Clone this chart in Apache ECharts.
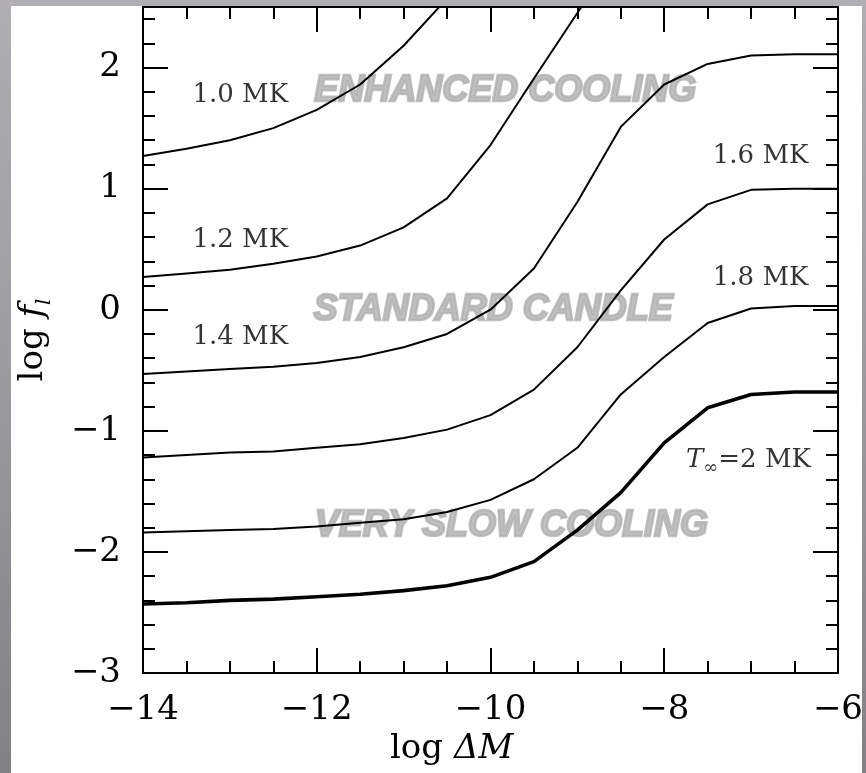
<!DOCTYPE html>
<html><head><meta charset="utf-8">
<script src="https://cdn.jsdelivr.net/npm/echarts@6/dist/echarts.min.js"></script>
<style>
html,body{margin:0;padding:0;}
#wrap{position:relative;width:866px;height:773px;background:linear-gradient(180deg,#b0aeb3 0%,#9c9a9f 50%,#828084 100%);overflow:hidden}
#paper{position:absolute;left:11px;top:6px;width:851px;height:767px;background:#fff}
#chart{position:absolute;left:0;top:0;width:866px;height:773px}
</style></head><body>
<div id="wrap"><div id="paper"></div><div id="chart"></div></div>
<script>
// x values: log ΔM
const logDM = [-14,-13.5,-13,-12.5,-12,-11.5,-11,-10.5,-10,-9.5,-9,-8.5,-8,-7.5,-7,-6.5,-6];
// log f_l for each core temperature
const T10 = [1.27,1.33,1.40,1.50,1.65,1.86,2.18,2.57];
const T12 = [0.27,0.30,0.33,0.38,0.44,0.53,0.68,0.92,1.36,1.91,2.45,3.00];
const T14 = [-0.53,-0.51,-0.49,-0.47,-0.44,-0.39,-0.31,-0.20,0.00,0.34,0.89,1.51,1.86,2.03,2.10,2.11,2.11];
const T16 = [-1.22,-1.20,-1.18,-1.17,-1.14,-1.11,-1.06,-0.99,-0.87,-0.66,-0.31,0.16,0.58,0.87,0.99,1.00,1.00];
const T18 = [-1.84,-1.83,-1.82,-1.81,-1.79,-1.76,-1.73,-1.67,-1.57,-1.40,-1.14,-0.70,-0.39,-0.11,0.01,0.03,0.03];
const T20 = [-2.43,-2.42,-2.40,-2.39,-2.37,-2.35,-2.32,-2.28,-2.21,-2.08,-1.82,-1.51,-1.10,-0.81,-0.70,-0.68,-0.68];
const curveNames = ['1.0 MK','1.2 MK','1.4 MK','1.6 MK','1.8 MK','2 MK'];
const regionNames = ['ENHANCED COOLING','STANDARD CANDLE','VERY SLOW COOLING'];
const xTicks = [-14,-12,-10,-8,-6];
const yTicks = [-3,-2,-1,0,1,2];

const SERIF = '"DejaVu Serif", serif';
const curves = [T10,T12,T14,T16,T18,T20];
const pairs = arr => arr.map((v,i)=>[logDM[i],v]);
const fmt = v => String(v).replace('-','\u2212');

// annotation anchors (data coords)
const curveLabelAt = [[-12.88,1.774],[-12.88,0.573],[-12.88,-0.229],[-6.89,1.265],[-6.89,0.262],[-7.03,-1.246]];
const regionLabelAt = [[-9.83,1.807],[-9.97,0.0],[-9.76,-1.79]];

const chart = echarts.init(document.getElementById('chart'), null, {renderer:'canvas'});

function axisStyle(split){
  return {
    axisLine:{show:true,onZero:false,lineStyle:{color:'#000',width:2}},
    axisTick:{show:true,inside:true,length:25,lineStyle:{color:'#000',width:2}},
    minorTick:{show:true,splitNumber:split,length:12,lineStyle:{color:'#000',width:2}},
    splitLine:{show:false}
  };
}

const series = [];
series.push({
  type:'scatter', name:'regions', silent:true, symbolSize:1,
  itemStyle:{color:'rgba(0,0,0,0)'},
  data: regionNames.map((t,i)=>({value:regionLabelAt[i], name:t})),
  label:{show:true, position:'inside', formatter:p=>p.name, color:'#b0b0b0',
    fontFamily:'"Liberation Sans", Arial, sans-serif', fontWeight:'bold', fontStyle:'italic', fontSize:36,
    textBorderColor:'#b0b0b0', textBorderWidth:2.5},
  z:1
});
curves.forEach((c,i)=>{
  series.push({
    type:'line', name:curveNames[i], data:pairs(c), showSymbol:false, symbol:'none',
    lineStyle:{color:'#000', width: i===5?3.6:2}, clip:true, z:3, silent:true
  });
});
series.push({
  type:'scatter', name:'labels', silent:true, symbolSize:1,
  itemStyle:{color:'rgba(0,0,0,0)'},
  data: curveNames.map((t,i)=>({value:curveLabelAt[i], name:t})),
  label:{show:true, position:'inside', color:'#000', fontFamily:SERIF, fontSize:26,
    formatter:p=> p.dataIndex===5 ? '{i|T}{s|\u221E}{r|=2 MK}' : p.name,
    rich:{
      i:{fontFamily:SERIF,fontStyle:'italic',fontSize:26,lineHeight:34,color:'#000'},
      s:{fontFamily:SERIF,fontSize:18,lineHeight:34,verticalAlign:'bottom',color:'#000'},
      r:{fontFamily:SERIF,fontSize:26,lineHeight:34,color:'#000'}
    }},
  z:4
});

chart.setOption({
  animation:false,
  grid:{left:143,right:27,top:7,bottom:100,containLabel:false},
  xAxis:[
    Object.assign({type:'value',min:-14,max:-6,interval:2,position:'bottom',
      axisLabel:{show:true,margin:20,color:'#000',fontFamily:SERIF,fontSize:34,
        formatter:v=> xTicks.includes(v)?fmt(v):''}}, axisStyle(4)),
    Object.assign({type:'value',min:-14,max:-6,interval:2,position:'top',axisLabel:{show:false}}, axisStyle(4))
  ],
  yAxis:[
    Object.assign({type:'value',min:-3,max:2.5,interval:1,position:'left',
      name:'{r|log }{i|f}{s|l}', nameLocation:'middle', nameRotate:90, nameGap:88,
      nameTextStyle:{color:'#000',fontFamily:SERIF,fontSize:34,rich:{
        r:{fontFamily:SERIF,fontSize:34,lineHeight:44,color:'#000'},
        i:{fontFamily:SERIF,fontStyle:'italic',fontSize:34,lineHeight:44,color:'#000'},
        s:{fontFamily:SERIF,fontStyle:'italic',fontSize:20,lineHeight:44,verticalAlign:'bottom',color:'#000'}}},
      axisLabel:{show:true,margin:22,color:'#000',fontFamily:SERIF,fontSize:34,
        formatter:v=> yTicks.includes(v)?fmt(v):''}}, axisStyle(5)),
    Object.assign({type:'value',min:-3,max:2.5,interval:1,position:'right',axisLabel:{show:false}}, axisStyle(5))
  ],
  graphic:[{
    type:'text', left:390, top:732, silent:true,
    style:{text:'{r|log }{i|\u0394M}', fill:'#000',
      rich:{r:{fontFamily:SERIF,fontSize:34,fill:'#000'},i:{fontFamily:SERIF,fontStyle:'italic',fontSize:34,fill:'#000'}}}
  }],
  series: series
});
</script>
</body></html>
